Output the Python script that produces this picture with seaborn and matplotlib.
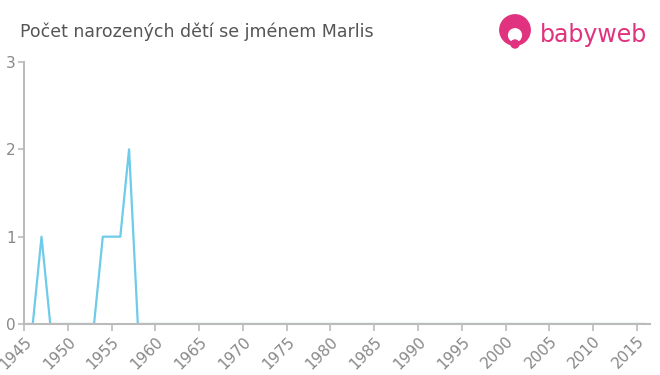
import matplotlib
matplotlib.use("Agg")
import matplotlib.pyplot as plt
import seaborn as sns
import pandas as pd
from matplotlib.patches import Circle

years = list(range(1945, 2017))
counts = [0, 0, 1, 0, 0, 0, 0, 0, 0, 1, 1, 1, 2, 0] + [0] * (2016 - 1958)
xticks = list(range(1945, 2020, 5))
yticks = [0, 1, 2, 3]
title = "Počet narozených dětí se jménem Marlis"

df = pd.DataFrame({"year": years, "count": counts})

sns.set_theme(style="white")
plt.rcParams['font.family'] = ['DejaVu Sans']

fig = plt.figure(figsize=(6.6, 3.75), dpi=100)
ax = fig.add_axes([24/660, 1 - 324/375, (650 - 24)/660, (324 - 62)/375])
sns.lineplot(data=df, x="year", y="count", ax=ax, color="#6ecbea", linewidth=1.6)

ax.set_xlim(1945, 2016.5)
ax.set_ylim(0, 3)
ax.set_xticks(xticks)
ax.set_yticks(yticks)
ax.set_xticklabels([str(t) for t in xticks], rotation=45, ha="right", rotation_mode="anchor")
ax.set_xlabel("")
ax.set_ylabel("")
for s in ["top", "right"]:
    ax.spines[s].set_visible(False)
for s in ["left", "bottom"]:
    ax.spines[s].set_color("#bbbbbb")
    ax.spines[s].set_linewidth(1.5)
ax.tick_params(axis="x", colors="#bbbbbb", length=5, width=1.2, labelcolor="#888888", labelsize=11, pad=2, direction="out", bottom=True)
ax.tick_params(axis="y", colors="#bbbbbb", length=4, width=1.2, labelcolor="#888888", labelsize=11, pad=2, direction="out", left=True)

fig.text(20/660, 1 - 32/375, title, fontsize=12.5, color="#555555", va="center", ha="left")

# logo
lax = fig.add_axes([495/660, 1 - 52/375, 40/660, 40/375])
lax.set_xlim(0, 1); lax.set_ylim(0, 1); lax.set_aspect("equal"); lax.axis("off")
lax.add_patch(Circle((0.5, 0.55), 0.38, color="#e0327f"))
lax.add_patch(Circle((0.5, 0.42), 0.16, color="white"))
lax.add_patch(Circle((0.5, 0.2), 0.1, color="#e0327f"))
fig.text(540/660, 1 - 35/375, "babyweb", fontsize=17, color="#e0327f", va="center", ha="left")

fig.savefig("out.png", dpi=100)
